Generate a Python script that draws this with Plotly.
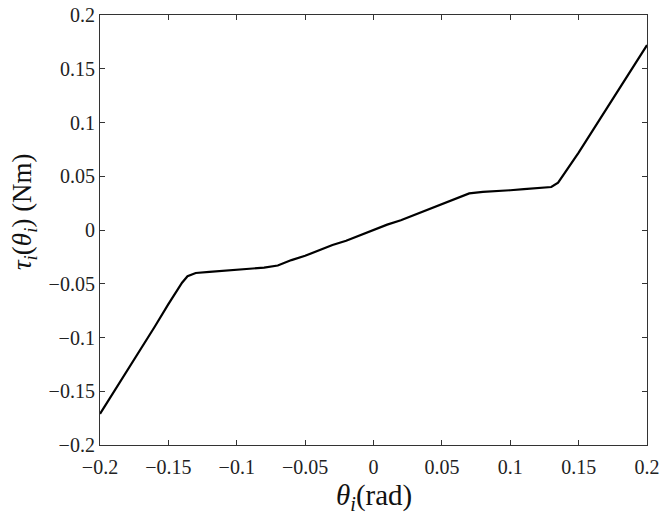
import plotly.graph_objects as go

theta = [-0.2, -0.19, -0.18, -0.17, -0.16, -0.15, -0.14, -0.136, -0.13, -0.12, -0.11, -0.10,
         -0.09, -0.08, -0.07, -0.06, -0.05, -0.04, -0.03, -0.02, -0.01, 0.0, 0.01, 0.02,
         0.03, 0.04, 0.05, 0.06, 0.07, 0.08, 0.09, 0.10, 0.11, 0.12, 0.13, 0.135, 0.14,
         0.15, 0.16, 0.17, 0.18, 0.19, 0.20]
tau = [-0.171, -0.151, -0.131, -0.110, -0.090, -0.069, -0.049, -0.043, -0.040, -0.039, -0.038, -0.037,
       -0.036, -0.035, -0.033, -0.028, -0.024, -0.019, -0.014, -0.010, -0.005, 0.000, 0.005, 0.009,
       0.014, 0.019, 0.024, 0.029, 0.034, 0.0355, 0.036, 0.037, 0.038, 0.039, 0.040, 0.044, 0.053,
       0.072, 0.092, 0.112, 0.132, 0.152, 0.172]

tick_vals = [-0.2, -0.15, -0.1, -0.05, 0, 0.05, 0.1, 0.15, 0.2]
tick_text = ["\u22120.2", "\u22120.15", "\u22120.1", "\u22120.05", "0", "0.05", "0.1", "0.15", "0.2"]

x_title = "<i>θ<sub>i</sub></i>(rad)"
y_title = "<i>τ<sub>i</sub></i>(<i>θ<sub>i</sub></i>) (Nm)"

fig = go.Figure(go.Scatter(x=theta, y=tau, mode="lines",
                           line=dict(color="black", width=2.2), showlegend=False))

axis_common = dict(
    range=[-0.2, 0.2], tickvals=tick_vals, ticktext=tick_text,
    ticks="inside", ticklen=5, tickcolor="#333", tickwidth=1,
    showline=True, linecolor="#333", linewidth=1.2, mirror="ticks",
    showgrid=False, zeroline=False, automargin=False,
    tickfont=dict(family="Liberation Serif", size=20, color="#222"),
)

fig.update_layout(
    width=667, height=527,
    margin=dict(l=100, r=20, t=15, b=82),
    paper_bgcolor="white", plot_bgcolor="white",
    xaxis=dict(**axis_common, ticklabelstandoff=4),
    yaxis=dict(**axis_common),
    annotations=[
        dict(text=x_title, xref="paper", yref="paper", x=0.5, y=-0.12,
             xanchor="center", yanchor="middle", showarrow=False,
             font=dict(family="Liberation Serif", size=29, color="#111")),
        dict(text=y_title, xref="paper", yref="paper", x=-0.139, y=0.544,
             xanchor="center", yanchor="middle", showarrow=False, textangle=-90,
             font=dict(family="Liberation Serif", size=27, color="#111")),
    ],
)

fig.write_html("out.html", config={"displayModeBar": False},
               post_script="document.body.style.margin='0';document.body.style.overflow='hidden';")
